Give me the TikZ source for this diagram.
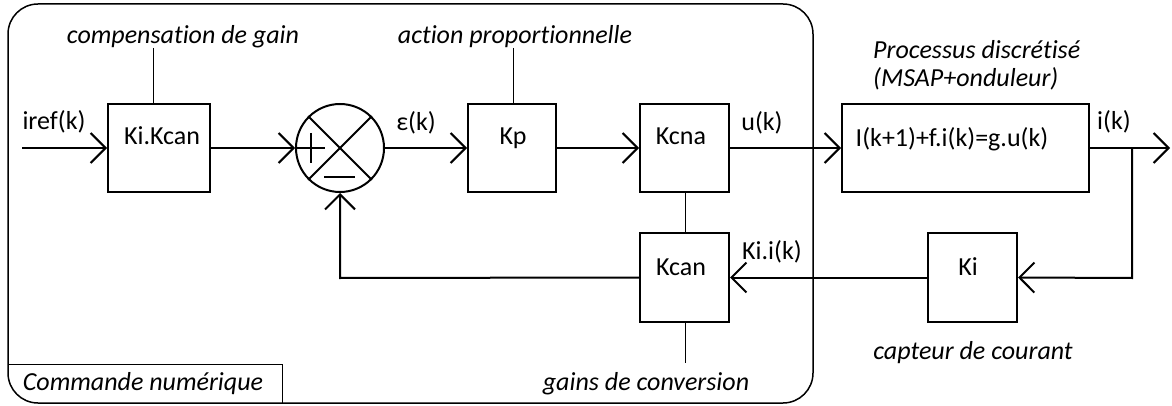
\documentclass[tikz,border=0pt]{standalone}
\usepackage{fontspec}
\setmainfont{Carlito}[Ligatures={NoCommon,NoRare},Contextuals=NoAlternate]
\usetikzlibrary{arrows.meta}
\begin{document}
\begin{tikzpicture}[x=1pt,y=-1pt,
  blk/.style={draw,line width=2pt,minimum width=88pt,minimum height=88pt,inner sep=0pt},
  sig/.style={line width=2pt},
  arr/.style={sig,-{Straight Barb[length=15pt,width=30pt]}},
  thinl/.style={line width=1pt},
  lbl/.style={font=\fontsize{26}{31}\selectfont,inner sep=0pt,anchor=base},
  itl/.style={lbl,font=\fontsize{26}{31}\selectfont\itshape},
]
\useasboundingbox (0,0) rectangle (1172,406);
% outer frame
\draw[line width=1.5pt, rounded corners=30pt] (8,4) rectangle (813,403);
\draw[thinl] (8,364) -- (282,364) -- (282,404);
\node[itl] (cmd) at (143,390) {Commande numérique};
% blocks
\node[blk,minimum width=102pt] (kikcan) at (159,148) {};
\node[lbl] (tkikcan) at (162,145) {Ki.Kcan};
\node[draw,circle,line width=2pt,minimum size=88pt,inner sep=0pt] (sum) at (340,148) {};
\node[blk] (kp) at (512,148) {};
\node[lbl] (tkp) at (513,145) {Kp};
\node[blk,minimum width=89pt] (kcna) at (684.5,148) {};
\node[lbl] (tkcna) at (681,145) {Kcna};
\node[blk,minimum width=247pt] (proc) at (965.5,148) {};
\node[lbl] (tproc) at (952,147) {I(k+1)+f.i(k)=g.u(k)};
\node[blk,minimum width=89pt,minimum height=89pt] (ki) at (972.5,277.5) {};
\node[lbl] (tki) at (968,275) {Ki};
\node[blk,minimum width=89pt,minimum height=89pt] (kcan) at (684.5,277.5) {};
\node[lbl] (tkcan) at (681,275) {Kcan};
% sum symbols
\draw[sig] (sum.north west) -- (sum.south east);
\draw[sig] (sum.north east) -- (sum.south west);
\draw[sig] (sum.west) -- (325,148);
\draw[sig] (311,133) -- (311,163);
\draw[sig] (324,177) -- (355,177);
% coordinates
\coordinate (in) at (22,148);
\coordinate (out) at (1170,148);
\coordinate (br) at (1132,148);
\coordinate (brd) at (1132,278);
\coordinate (fb) at (340,278);
\coordinate (c1) at (153,48);
\coordinate (c2) at (513,48);
\coordinate (c3) at (685,363);
% signal connectors
\draw[arr] (in) -- (kikcan.west);
\draw[arr] (kikcan.east) -- (sum.west);
\draw[arr] (sum.east) -- (kp.west);
\draw[arr] (kp.east) -- (kcna.west);
\draw[arr] (kcna.east) -- (proc.west);
\draw[arr] (proc.east) -- (out);
\draw[arr] (br) -- (brd) -- (ki.east);
\draw[arr] (ki.west) -- (kcan.east);
\draw[arr] (kcan.west) -- (fb) -- (sum.south);
% leaders
\draw[thinl] (c1) -- (153,104);
\draw[thinl] (c2) -- (513,104);
\draw[thinl] (685,192) -- (685,233);
\draw[thinl] (685,322) -- (c3);
% signal labels
\node[lbl] (liref) at (54,130) {iref(k)};
\node[lbl] (leps) at (416,131) {ε(k)};
\node[lbl] (lu) at (762,131) {u(k)};
\node[lbl] (li) at (1114,130) {i(k)};
\node[lbl] (lkii) at (772,259) {Ki.i(k)};
% descriptive labels
\node[itl] (dcomp) at (183,44) {compensation de gain};
\node[itl] (dact) at (515,44) {action proportionnelle};
\node[itl,anchor=base west] (dproc1) at (873,59) {Processus discrétisé};
\node[itl,anchor=base west] (dproc2) at (873,87) {(MSAP+onduleur)};
\node[itl] (dcapt) at (973,359) {capteur de courant};
\node[itl] (dgain) at (646,390) {gains de conversion};
\end{tikzpicture}
\end{document}
